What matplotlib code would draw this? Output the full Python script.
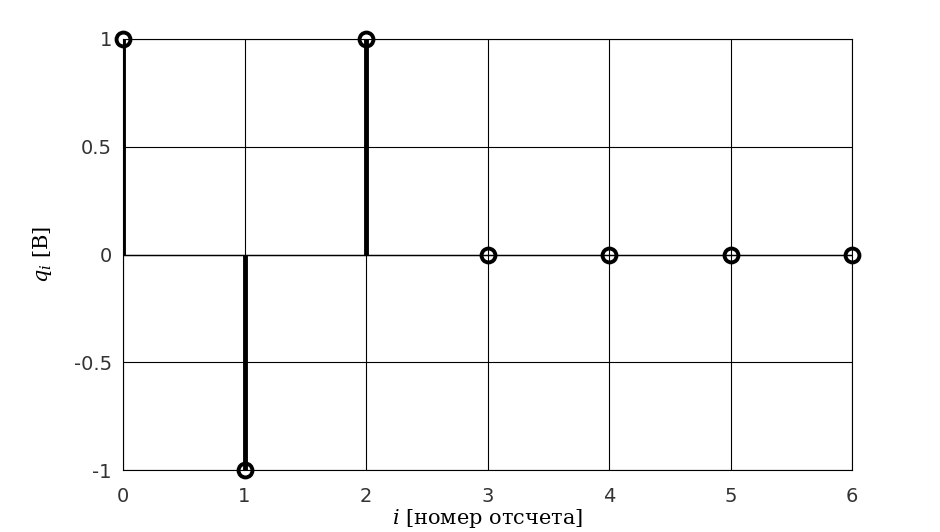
import numpy as np
import matplotlib.pyplot as plt

plt.rcParams['axes.unicode_minus'] = False
plt.rcParams['mathtext.fontset'] = 'dejavuserif'

n = [0, 1, 2, 3, 4, 5, 6]
q = [1, -1, 1, 0, 0, 0, 0]
yticks = [-1, -0.5, 0, 0.5, 1]
ytick_labels = ["-1", "-0.5", "0", "0.5", "1"]

fig = plt.figure(figsize=(9.4, 5.32), dpi=100)
ax = fig.add_axes([0.1309, 0.1165, 0.7755, 0.8102])

markers, stems, base = ax.stem(n, q, linefmt='k-', markerfmt='ko', basefmt='k-')
stems.set_linewidth(3.5)
markers.set_markerfacecolor('none')
markers.set_markersize(10)
markers.set_markeredgewidth(2.8)
markers.set_clip_on(False)
markers.set_zorder(5)
base.set_linewidth(1)

ax.set_xlim(0, 6)
ax.set_ylim(-1, 1)
ax.set_xticks(n)
ax.set_yticks(yticks)
ax.set_yticklabels(ytick_labels)
ax.grid(True, color='black', linewidth=0.8)
ax.set_axisbelow(True)
for s in ax.spines.values():
    s.set_linewidth(0.8)
ax.tick_params(length=0, labelsize=14, colors='#333333')
ax.tick_params(axis='x', pad=12)
ax.tick_params(axis='y', pad=8)

ax.set_xlabel(r'$i$ [номер отсчета]', family='DejaVu Serif', fontsize=15, labelpad=1)
ax.set_ylabel(r'$q_i$ [В]', family='DejaVu Serif', fontsize=15, labelpad=14)

fig.savefig('out.png', dpi=100)
